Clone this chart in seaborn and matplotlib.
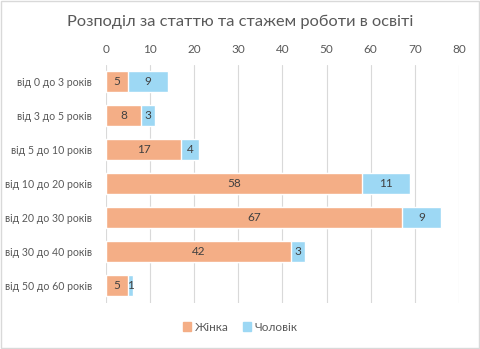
import matplotlib
matplotlib.use("Agg")
import matplotlib.pyplot as plt
import seaborn as sns
import pandas as pd
import numpy as np
from matplotlib.patches import Patch

categories = ["від 0 до 3 років", "від 3 до 5 років", "від 5 до 10 років",
              "від 10 до 20 років", "від 20 до 30 років", "від 30 до 40 років",
              "від 50 до 60 років"]
female = [5, 8, 17, 58, 67, 42, 5]
male = [9, 3, 4, 11, 9, 3, 1]
ticks = [0, 10, 20, 30, 40, 50, 60, 70, 80]

sns.set_theme(style="white")
plt.rcParams['font.family'] = ['Lato', 'DejaVu Sans']

c_f = "#F4AE86"
c_m = "#9DD8F4"
gray = "#595959"

fig = plt.figure(figsize=(4.8, 3.49), dpi=100)
ax = fig.add_axes([0.221, 0.132, 0.735, 0.682])

df = pd.DataFrame({"cat": categories, "f": female, "m": male})
df["total"] = df["f"] + df["m"]

sns.barplot(data=df, y="cat", x="total", color=c_m, orient="h", width=0.62, ax=ax, saturation=1)
sns.barplot(data=df, y="cat", x="f", color=c_f, orient="h", width=0.62, ax=ax, saturation=1)

for i, (f, m) in enumerate(zip(female, male)):
    ax.text(f / 2, i, str(f), ha="center", va="center", fontsize=8.5, color="#404040")
    ax.text(f + m / 2, i, str(m), ha="center", va="center", fontsize=8.5, color="#404040")

ax.set_xlim(0, 80)
ax.set_xticks(ticks)
ax.xaxis.tick_top()
ax.tick_params(axis="x", length=0, labelsize=8.5, colors=gray, pad=7)
ax.tick_params(axis="y", length=0, labelsize=7.6, colors=gray, pad=10)
ax.set_xlabel("")
ax.set_ylabel("")
ax.grid(axis="x", color="#D9D9D9", linewidth=0.8)
ax.set_axisbelow(True)
for s in ax.spines.values():
    s.set_visible(False)

fig.text(0.5, 0.937, "Розподіл за статтю та стажем роботи в освіті", ha="center", va="center",
         fontsize=11.8, color=gray)

handles = [Patch(color=c_f, label="Жінка"), Patch(color=c_m, label="Чоловік")]
fig.legend(handles=handles, loc="center", bbox_to_anchor=(0.5, 0.063), ncol=2, frameon=False,
           fontsize=8.5, handlelength=0.7, handleheight=0.7, handletextpad=0.3, columnspacing=1.2,
           labelcolor=gray)

fig.patches.append(plt.Rectangle((0.002, 0.003), 0.995, 0.994, transform=fig.transFigure,
                                 fill=False, edgecolor="#D9D9D9", linewidth=1))

fig.savefig("out.png", dpi=100)
